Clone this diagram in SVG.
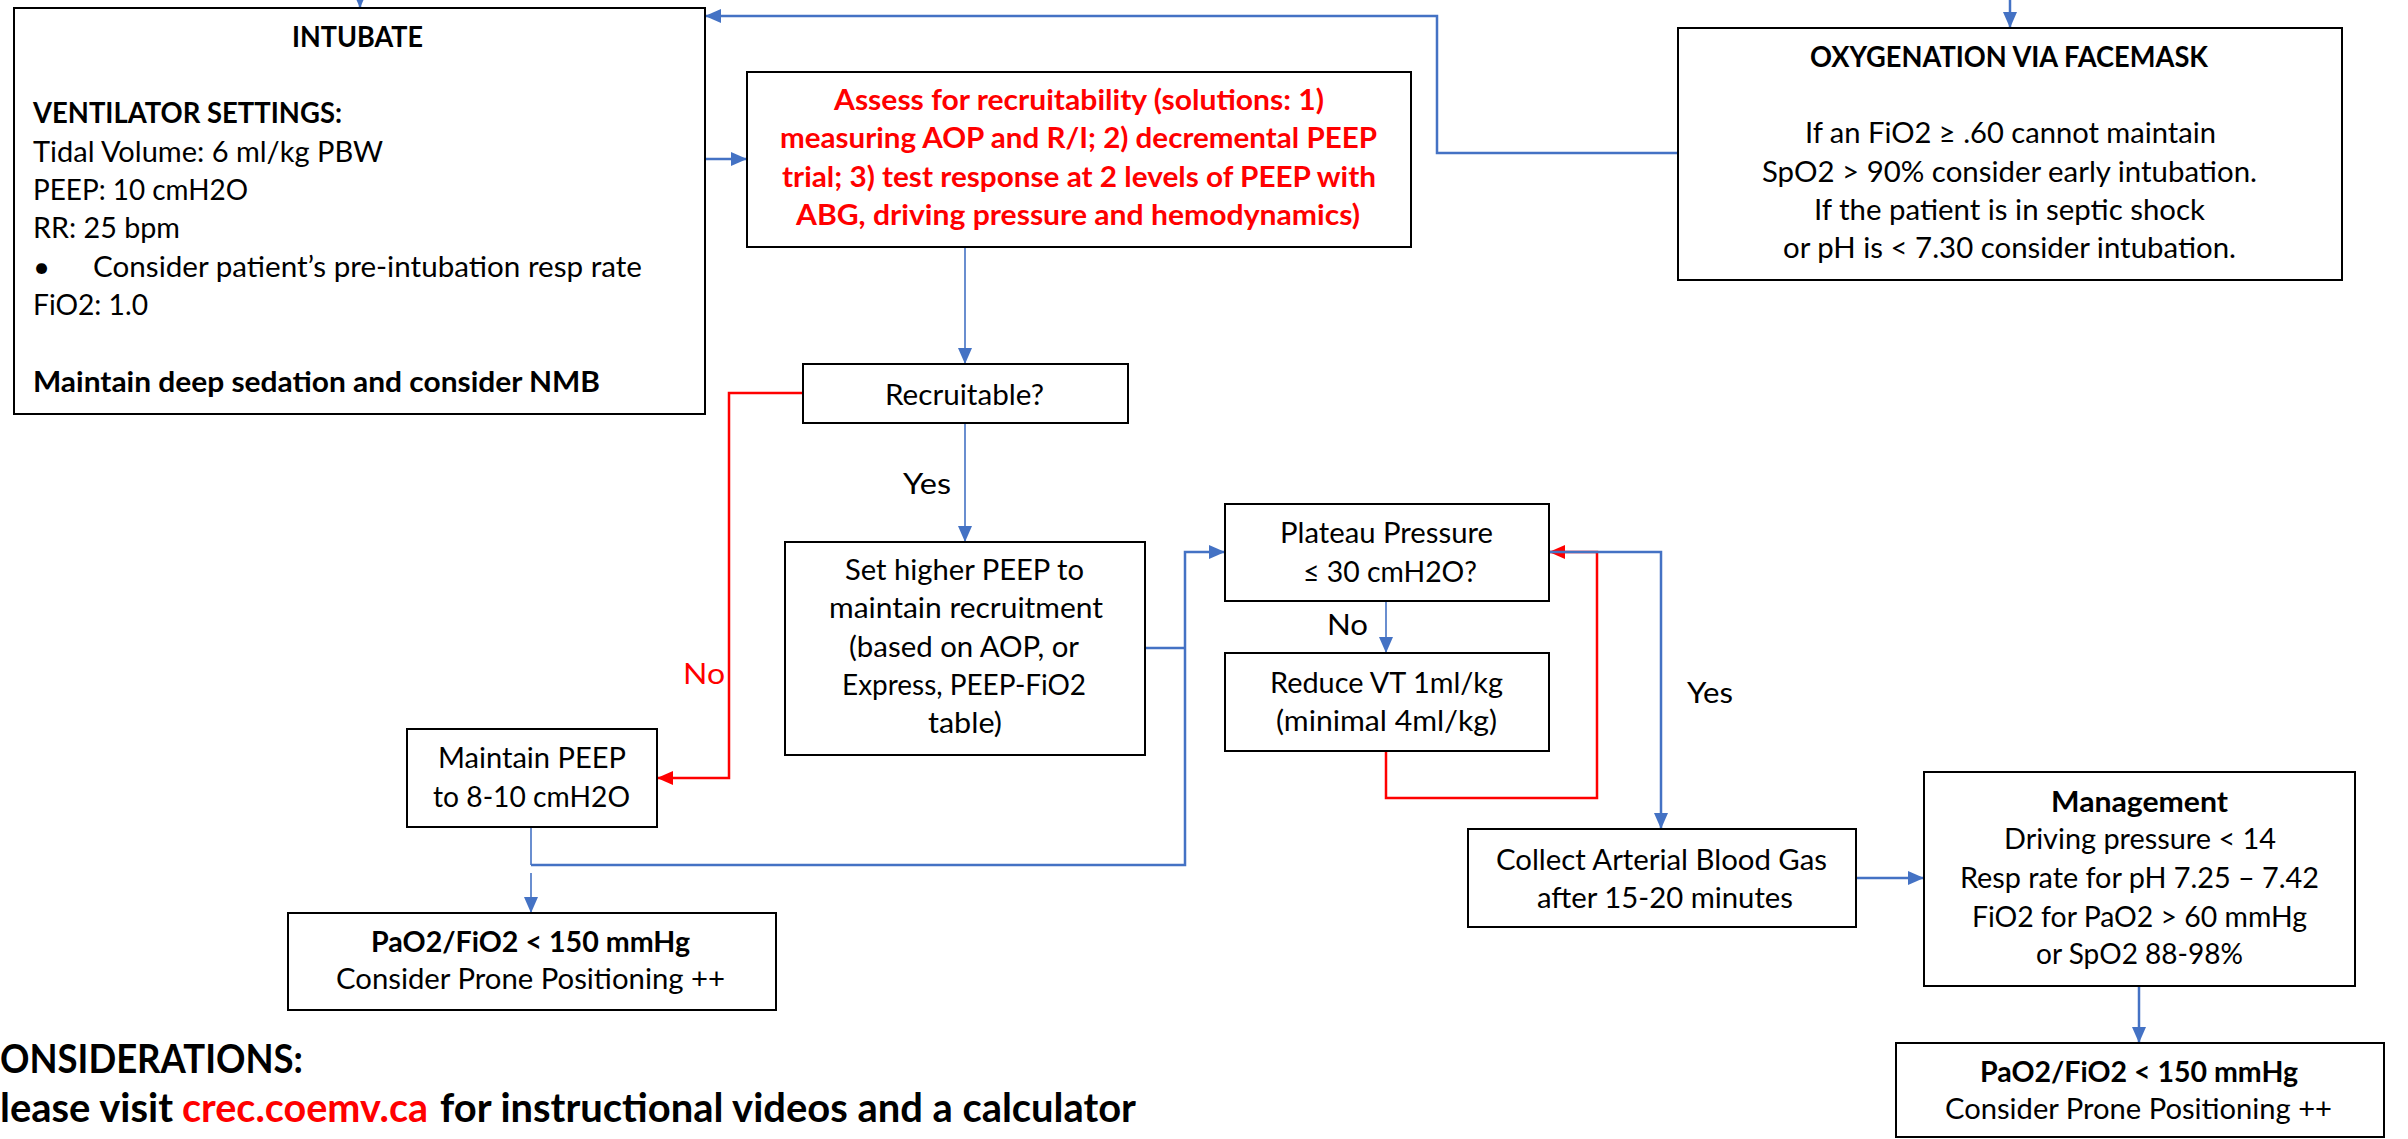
<svg xmlns="http://www.w3.org/2000/svg" width="2408" height="1139" viewBox="0 0 2408 1139">
<style>
.box{fill:#fff;stroke:#000;stroke-width:2}
.t{font-family:Lato,"Liberation Sans",sans-serif;font-size:29.5px;fill:#000}
.b{font-weight:bold;font-size:28px}
.k{font-weight:bold;font-size:40px}
.r{fill:#FF0000}
.bl{fill:none;stroke:#4472C4;stroke-width:2.5}
.blt{fill:none;stroke:#4472C4;stroke-width:1.6}
.rd{fill:none;stroke:#FF0000;stroke-width:2.5}
</style>
<defs>
<marker id="ab" markerUnits="userSpaceOnUse" markerWidth="16" markerHeight="14" refX="16" refY="7" orient="auto"><path d="M0,0 L16,7 L0,14 z" fill="#4472C4"/></marker>
<marker id="ar" markerUnits="userSpaceOnUse" markerWidth="16" markerHeight="14" refX="16" refY="7" orient="auto"><path d="M0,0 L16,7 L0,14 z" fill="#FF0000"/></marker>
</defs>
<rect width="2408" height="1139" fill="#fff"/>
<g id="connectors">
<path class="bl" d="M360,-20 V8" marker-end="url(#ab)"/>
<path class="bl" d="M2010,-20 V28" marker-end="url(#ab)"/>
<path class="bl" d="M1678,153 H1437 V16 H705" marker-end="url(#ab)"/>
<path class="bl" d="M705,159 H747" marker-end="url(#ab)"/>
<path class="blt" d="M965,247 V364" marker-end="url(#ab)"/>
<path class="blt" d="M965,423 V542" marker-end="url(#ab)"/>
<path class="rd" d="M803,393 H729 V778 H657" marker-end="url(#ar)"/>
<path class="bl" d="M1145,648 H1185"/>
<path class="blt" d="M531,827 V865"/>
<path class="bl" d="M531,865 H1185 V552 H1225" marker-end="url(#ab)"/>
<path class="blt" d="M531,873 V913" marker-end="url(#ab)"/>
<path class="blt" d="M1386,601 V653" marker-end="url(#ab)"/>
<path class="rd" d="M1386,751 V798 H1597 V552 H1549" marker-end="url(#ar)"/>
<path class="bl" d="M1549,552 H1661 V829" marker-end="url(#ab)"/>
<path class="bl" d="M1856,878 H1924" marker-end="url(#ab)"/>
<path class="bl" d="M2139,986 V1043" marker-end="url(#ab)"/>
<text class="t" x="903" y="494" textLength="48" lengthAdjust="spacingAndGlyphs">Yes</text>
<text class="t r" x="683" y="684" textLength="42" lengthAdjust="spacingAndGlyphs">No</text>
<text class="t" x="1327" y="635" textLength="41" lengthAdjust="spacingAndGlyphs">No</text>
<text class="t" x="1687" y="703" textLength="46" lengthAdjust="spacingAndGlyphs">Yes</text>
</g>
<g id="intubate">
<rect class="box" x="14" y="8" width="691" height="406"/>
<text class="t b" x="292" y="47" textLength="131" lengthAdjust="spacingAndGlyphs">INTUBATE</text>
<text class="t b" x="33" y="123" textLength="309" lengthAdjust="spacingAndGlyphs">VENTILATOR SETTINGS:</text>
<text class="t" x="33" y="162" textLength="350" lengthAdjust="spacingAndGlyphs">Tidal Volume: 6 ml/kg PBW</text>
<text class="t" x="33" y="200" textLength="215" lengthAdjust="spacingAndGlyphs">PEEP: 10 cmH2O</text>
<text class="t" x="33" y="238" textLength="147" lengthAdjust="spacingAndGlyphs">RR: 25 bpm</text>
<text class="t" x="33" y="277">•</text>
<text class="t" x="93" y="277" textLength="549" lengthAdjust="spacingAndGlyphs">Consider patient’s pre-intubation resp rate</text>
<text class="t" x="33" y="315" textLength="115" lengthAdjust="spacingAndGlyphs">FiO2: 1.0</text>
<text class="t b" x="33" y="392" textLength="567" lengthAdjust="spacingAndGlyphs">Maintain deep sedation and consider NMB</text>
</g>
<g id="assess">
<rect class="box" x="747" y="72" width="664" height="175"/>
<text class="t b r" x="834" y="110" textLength="490" lengthAdjust="spacingAndGlyphs">Assess for recruitability (solutions: 1)</text>
<text class="t b r" x="780" y="148" textLength="597" lengthAdjust="spacingAndGlyphs">measuring AOP and R/I; 2) decremental PEEP</text>
<text class="t b r" x="782" y="187" textLength="594" lengthAdjust="spacingAndGlyphs">trial; 3) test response at 2 levels of PEEP with</text>
<text class="t b r" x="796" y="225" textLength="564" lengthAdjust="spacingAndGlyphs">ABG, driving pressure and hemodynamics)</text>
</g>
<g id="facemask">
<rect class="box" x="1678" y="28" width="664" height="252"/>
<text class="t b" x="1810" y="67" textLength="398" lengthAdjust="spacingAndGlyphs">OXYGENATION VIA FACEMASK</text>
<text class="t" x="1805" y="143" textLength="411" lengthAdjust="spacingAndGlyphs">If an FiO2 ≥ .60 cannot maintain</text>
<text class="t" x="1762" y="182" textLength="495" lengthAdjust="spacingAndGlyphs">SpO2 &gt; 90% consider early intubation.</text>
<text class="t" x="1814" y="220" textLength="391" lengthAdjust="spacingAndGlyphs">If the patient is in septic shock</text>
<text class="t" x="1783" y="258" textLength="453" lengthAdjust="spacingAndGlyphs">or pH is &lt; 7.30 consider intubation.</text>
</g>
<g id="recruitable">
<rect class="box" x="803" y="364" width="325" height="59"/>
<text class="t" x="885" y="405" textLength="159" lengthAdjust="spacingAndGlyphs">Recruitable?</text>
</g>
<g id="set-higher-peep">
<rect class="box" x="785" y="542" width="360" height="213"/>
<text class="t" x="845" y="580" textLength="239" lengthAdjust="spacingAndGlyphs">Set higher PEEP to</text>
<text class="t" x="829" y="618" textLength="274" lengthAdjust="spacingAndGlyphs">maintain recruitment</text>
<text class="t" x="849" y="657" textLength="230" lengthAdjust="spacingAndGlyphs">(based on AOP, or</text>
<text class="t" x="842" y="695" textLength="244" lengthAdjust="spacingAndGlyphs">Express, PEEP-FiO2</text>
<text class="t" x="928" y="733" textLength="74" lengthAdjust="spacingAndGlyphs">table)</text>
</g>
<g id="maintain-peep">
<rect class="box" x="407" y="729" width="250" height="98"/>
<text class="t" x="438" y="768" textLength="188" lengthAdjust="spacingAndGlyphs">Maintain PEEP</text>
<text class="t" x="433" y="807" textLength="197" lengthAdjust="spacingAndGlyphs">to 8-10 cmH2O</text>
</g>
<g id="prone-left">
<rect class="box" x="288" y="913" width="488" height="97"/>
<text class="t b" x="371" y="952" textLength="319" lengthAdjust="spacingAndGlyphs">PaO2/FiO2 &lt; 150 mmHg</text>
<text class="t" x="336" y="989" textLength="389" lengthAdjust="spacingAndGlyphs">Consider Prone Positioning ++</text>
</g>
<g id="plateau">
<rect class="box" x="1225" y="504" width="324" height="97"/>
<text class="t" x="1280" y="543" textLength="213" lengthAdjust="spacingAndGlyphs">Plateau Pressure</text>
<text class="t" x="1303" y="582" textLength="174" lengthAdjust="spacingAndGlyphs">≤ 30 cmH2O?</text>
</g>
<g id="reduce-vt">
<rect class="box" x="1225" y="653" width="324" height="98"/>
<text class="t" x="1270" y="693" textLength="233" lengthAdjust="spacingAndGlyphs">Reduce VT 1ml/kg</text>
<text class="t" x="1276" y="731" textLength="221" lengthAdjust="spacingAndGlyphs">(minimal 4ml/kg)</text>
</g>
<g id="abg">
<rect class="box" x="1468" y="829" width="388" height="98"/>
<text class="t" x="1496" y="870" textLength="331" lengthAdjust="spacingAndGlyphs">Collect Arterial Blood Gas</text>
<text class="t" x="1537" y="908" textLength="256" lengthAdjust="spacingAndGlyphs">after 15-20 minutes</text>
</g>
<g id="management">
<rect class="box" x="1924" y="772" width="431" height="214"/>
<text class="t b" x="2051" y="812" textLength="177" lengthAdjust="spacingAndGlyphs">Management</text>
<text class="t" x="2004" y="849" textLength="272" lengthAdjust="spacingAndGlyphs">Driving pressure &lt; 14</text>
<text class="t" x="1960" y="888" textLength="359" lengthAdjust="spacingAndGlyphs">Resp rate for pH 7.25 – 7.42</text>
<text class="t" x="1972" y="927" textLength="335" lengthAdjust="spacingAndGlyphs">FiO2 for PaO2 &gt; 60 mmHg</text>
<text class="t" x="2036" y="964" textLength="207" lengthAdjust="spacingAndGlyphs">or SpO2 88-98%</text>
</g>
<g id="prone-right">
<rect class="box" x="1896" y="1043" width="488" height="94"/>
<text class="t b" x="1980" y="1082" textLength="318" lengthAdjust="spacingAndGlyphs">PaO2/FiO2 &lt; 150 mmHg</text>
<text class="t" x="1945" y="1119" textLength="387" lengthAdjust="spacingAndGlyphs">Consider Prone Positioning ++</text>
</g>
<g id="considerations">
<text class="t k" x="0" y="1073" textLength="303" lengthAdjust="spacingAndGlyphs">ONSIDERATIONS:</text>
<text class="t k" x="0" y="1122" textLength="173" lengthAdjust="spacingAndGlyphs">lease visit</text>
<text class="t k r" x="182" y="1122" textLength="246" lengthAdjust="spacingAndGlyphs">crec.coemv.ca</text>
<text class="t k" x="440" y="1122" textLength="696" lengthAdjust="spacingAndGlyphs">for instructional videos and a calculator</text>
</g>
</svg>
